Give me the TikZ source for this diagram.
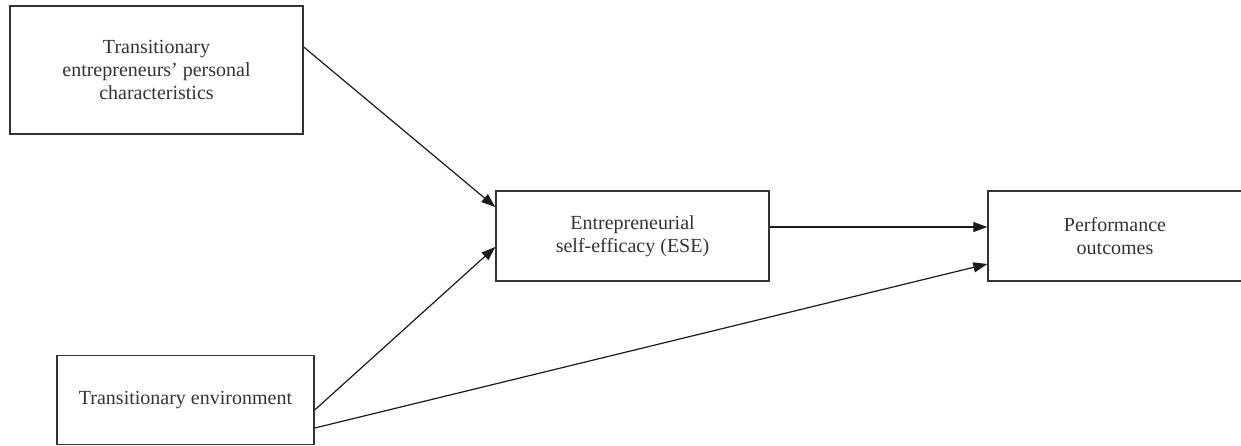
\documentclass[tikz,border=0pt]{standalone}
\usepackage{fontspec}
\setmainfont{Liberation Serif}
\usepackage{xcolor}
\usepackage{tikz}
\usetikzlibrary{positioning, arrows.meta, calc}
\definecolor{boxLine}{HTML}{333333}
\definecolor{arrLine}{HTML}{1A1A1A}

\begin{document}
\begin{tikzpicture}[x=1pt, y=-1pt,
    concept/.style={draw=boxLine, line width=1.4pt, rectangle, align=center, inner sep=0pt,
      font=\fontsize{20}{23}\selectfont, text=black!80},
    link/.style={arrLine, line width=1.2pt, -{Triangle[length=14pt, width=10pt]}}]
        \useasboundingbox (0, 0) rectangle (1241, 446);
        % boxes
        \node[concept, minimum width=293pt, minimum height=128pt] (traits) at (156.5, 70)
          {Transitionary\\entrepreneurs' personal\\characteristics};
        \node[concept, minimum width=273pt, minimum height=90pt] (ese) at (632.5, 236)
          {Entrepreneurial\\self-efficacy (ESE)};
        \node[concept, minimum width=254pt, minimum height=90pt] (perf) at (1115, 236)
          {Performance\\outcomes};
        \node[concept, minimum width=257pt, minimum height=89pt] (env) at (185.5, 400)
          {Transitionary environment};
        % paths
        \draw[link] ([yshift=23pt]traits.east) -- ([yshift=29pt]ese.west);
        \draw[link] ([yshift=-10pt]env.east) -- ([yshift=-11pt]ese.west);
        \draw[link] ([yshift=-28pt]env.east) -- ([yshift=-28pt]perf.west);
        \draw[link] ([yshift=9pt]ese.east) -- ([yshift=9pt]perf.west);
      \end{tikzpicture}
\end{document}
